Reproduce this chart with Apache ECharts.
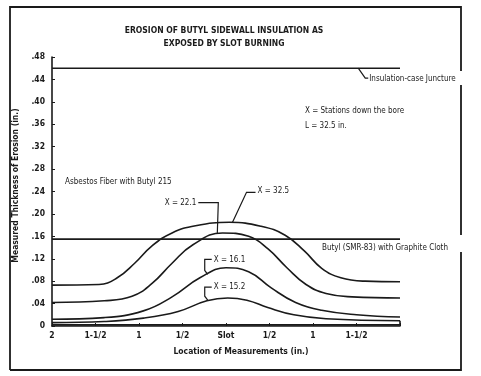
<!DOCTYPE html>
<html>
<head>
<meta charset="utf-8">
<script src="https://cdn.jsdelivr.net/npm/echarts@6/dist/echarts.min.js"></script>
<style>
html,body{margin:0;padding:0;background:#fff;}
#chart{width:481px;height:376px;}
</style>
</head>
<body>
<div id="chart"></div>
<script>
// ---- data (x: location in inches from slot, left side negative; y: thickness eroded, in.) ----
const xTickValues = [-2, -1.5, -1, -0.5, 0, 0.5, 1, 1.5, 2];
const xTickLabels = ['2', '1-1/2', '1', '1/2', 'Slot', '1/2', '1', '1-1/2', ''];
const yTickLabels = ['0', '.04', '.08', '.12', '.16', '.20', '.24', '.28', '.32', '.36', '.40', '.44', '.48'];

const juncture = [[-2, 0.46], [2, 0.46]];
const butylGraphite = [[-2, 0.155], [2, 0.155]];

const curveX325 = [[-2, 0.073], [-1.46, 0.074], [-1.25, 0.086], [-1.05, 0.112], [-0.85, 0.143],
  [-0.62, 0.166], [-0.35, 0.179], [0.04, 0.185], [0.40, 0.178], [0.68, 0.162], [0.90, 0.134],
  [1.10, 0.103], [1.32, 0.086], [1.60, 0.080], [2, 0.079]];
const curveX221 = [[-2, 0.042], [-1.40, 0.045], [-1.08, 0.053], [-0.85, 0.076], [-0.62, 0.112],
  [-0.38, 0.145], [-0.04, 0.166], [0.26, 0.160], [0.48, 0.138], [0.70, 0.104], [0.92, 0.074],
  [1.15, 0.058], [1.45, 0.052], [2, 0.050]];
const curveX161 = [[-2, 0.012], [-1.40, 0.015], [-0.95, 0.027], [-0.62, 0.052], [-0.30, 0.086],
  [0, 0.104], [0.26, 0.097], [0.52, 0.068], [0.80, 0.042], [1.10, 0.028], [1.50, 0.020], [2, 0.016]];
const curveX152 = [[-2, 0.006], [-1.40, 0.008], [-0.95, 0.014], [-0.55, 0.026], [-0.22, 0.045],
  [0.02, 0.050], [0.24, 0.046], [0.48, 0.033], [0.78, 0.020], [1.15, 0.013], [2, 0.0095]];
const baseLine = [[-2, 0.002], [2, 0.002], [2, 0.0095]];

// annotation anchors (data coords of the point each leader touches)
const notes = [
  {text: 'X = 32.5', at: [0.075, 0.185]},
  {text: 'X = 22.1', at: [-0.10, 0.165]},
  {text: 'X = 16.1', at: [-0.21, 0.092]},
  {text: 'X = 15.2', at: [-0.21, 0.046]},
  {text: 'Insulation-case Juncture', at: [1.52, 0.46]}
];

const FONT = '"DejaVu Sans Condensed", "Liberation Sans Narrow", "DejaVu Sans", sans-serif';
const INK = '#1a1a1a';

const chart = echarts.init(document.getElementById('chart'));

function lineSeries(data, smooth) {
  return {
    type: 'line', data: data, smooth: smooth ? 0.45 : false,
    showSymbol: false, symbol: 'none', silent: true,
    lineStyle: {color: INK, width: 1.6}, z: 3
  };
}

chart.setOption({
  animation: false,
  backgroundColor: '#fff',
  textStyle: {fontFamily: FONT},
  grid: {left: 52, right: 81, top: 57, bottom: 50},
  xAxis: {
    type: 'value', min: -2, max: 2, interval: 0.5,
    axisLine: {show: true, onZero: false, lineStyle: {color: INK, width: 1.6}},
    axisTick: {show: true, inside: true, length: 3, lineStyle: {color: INK}},
    splitLine: {show: false},
    axisLabel: {
      color: INK, fontSize: 8.5, fontWeight: 'bold', fontFamily: FONT, margin: 5,
      formatter: function (v) {
        const i = xTickValues.findIndex(t => Math.abs(t - v) < 1e-6);
        return i >= 0 ? xTickLabels[i] : '';
      }
    }
  },
  yAxis: {
    type: 'value', min: 0, max: 0.48, interval: 0.04,
    name: 'Measured Thickness of Erosion (in.)', nameLocation: 'middle', nameGap: 30,
    nameTextStyle: {color: INK, fontSize: 8.5, fontWeight: 'bold', fontFamily: FONT, padding: [0, 0, 0, 12]},
    axisLine: {show: true, onZero: false, lineStyle: {color: INK, width: 1.6}},
    axisTick: {show: true, inside: true, length: 3, lineStyle: {color: INK}},
    splitLine: {show: false},
    axisLabel: {
      color: INK, fontSize: 8.5, fontWeight: 'bold', fontFamily: FONT, margin: 7,
      formatter: function (v) { return yTickLabels[Math.round(v / 0.04)] || ''; }
    }
  },
  series: [
    lineSeries(juncture, false),
    lineSeries(butylGraphite, false),
    lineSeries(curveX325, true),
    lineSeries(curveX221, true),
    lineSeries(curveX161, true),
    lineSeries(curveX152, true),
    lineSeries(baseLine, false)
  ]
});

// ---- annotations, frame and titles ----
function px(pt) { return chart.convertToPixel({gridIndex: 0}, pt); }
const g = [];
function txt(x, y, s, opt) {
  g.push({type: 'text', x: x, y: y, silent: true, z: 10,
    style: Object.assign({text: s, fill: INK, font: 'bold 8.5px ' + FONT, textVerticalAlign: 'middle'}, opt || {})});
}
function pl(points, w) {
  g.push({type: 'polyline', silent: true, z: 10, shape: {points: points},
    style: {stroke: INK, lineWidth: w || 1.2, fill: null}});
}

// frame (scan border, broken where labels cross it)
pl([[10, 370], [10, 7], [461, 7], [461, 71]], 1.8);
pl([[461, 85], [461, 235]], 1.8);
pl([[461, 252], [461, 370], [10, 370]], 1.8);

// title
txt(224, 31, 'EROSION OF BUTYL SIDEWALL INSULATION AS', {textAlign: 'center', font: 'bold 8.5px ' + FONT});
txt(224, 44, 'EXPOSED BY SLOT BURNING', {textAlign: 'center', font: 'bold 8.5px ' + FONT});

// x-axis title
txt(241, 352, 'Location of Measurements (in.)', {textAlign: 'center'});

// plain notes
txt(305, 111, 'X = Stations down the bore', {font: '8px ' + FONT});
txt(305, 126, 'L = 32.5 in.', {font: '8px ' + FONT});
txt(65, 182, 'Asbestos Fiber with Butyl 215', {font: '8px ' + FONT});
txt(322, 248, 'Butyl (SMR-83) with Graphite Cloth', {font: '8px ' + FONT});

// leadered notes
(function () {
  let p = px(notes[0].at); // X = 32.5
  pl([[p[0], p[1]], [p[0] + 14, p[1] - 30], [p[0] + 23, p[1] - 30]]);
  txt(p[0] + 25, p[1] - 31, notes[0].text, {font: '8px ' + FONT});

  p = px(notes[1].at); // X = 22.1
  pl([[p[0], p[1]], [p[0] + 1, p[1] - 31], [p[0] - 19, p[1] - 31]]);
  txt(p[0] - 21, p[1] - 31, notes[1].text, {font: '8px ' + FONT, textAlign: 'right'});

  p = px(notes[2].at); // X = 16.1
  pl([[p[0], p[1]], [p[0] - 3, p[1] - 4], [p[0] - 3, p[1] - 15], [p[0] + 4, p[1] - 15]]);
  txt(p[0] + 6, p[1] - 15, notes[2].text, {font: '8px ' + FONT});

  p = px(notes[3].at); // X = 15.2
  pl([[p[0], p[1]], [p[0] - 3, p[1] - 4], [p[0] - 3, p[1] - 13], [p[0] + 4, p[1] - 13]]);
  txt(p[0] + 6, p[1] - 13, notes[3].text, {font: '8px ' + FONT});

  p = px(notes[4].at); // juncture
  pl([[p[0], p[1]], [p[0] + 7, p[1] + 10], [p[0] + 10, p[1] + 10]]);
  txt(p[0] + 11, p[1] + 11, notes[4].text, {font: '8px ' + FONT});
})();

chart.setOption({graphic: {elements: g}});
</script>
</body>
</html>
